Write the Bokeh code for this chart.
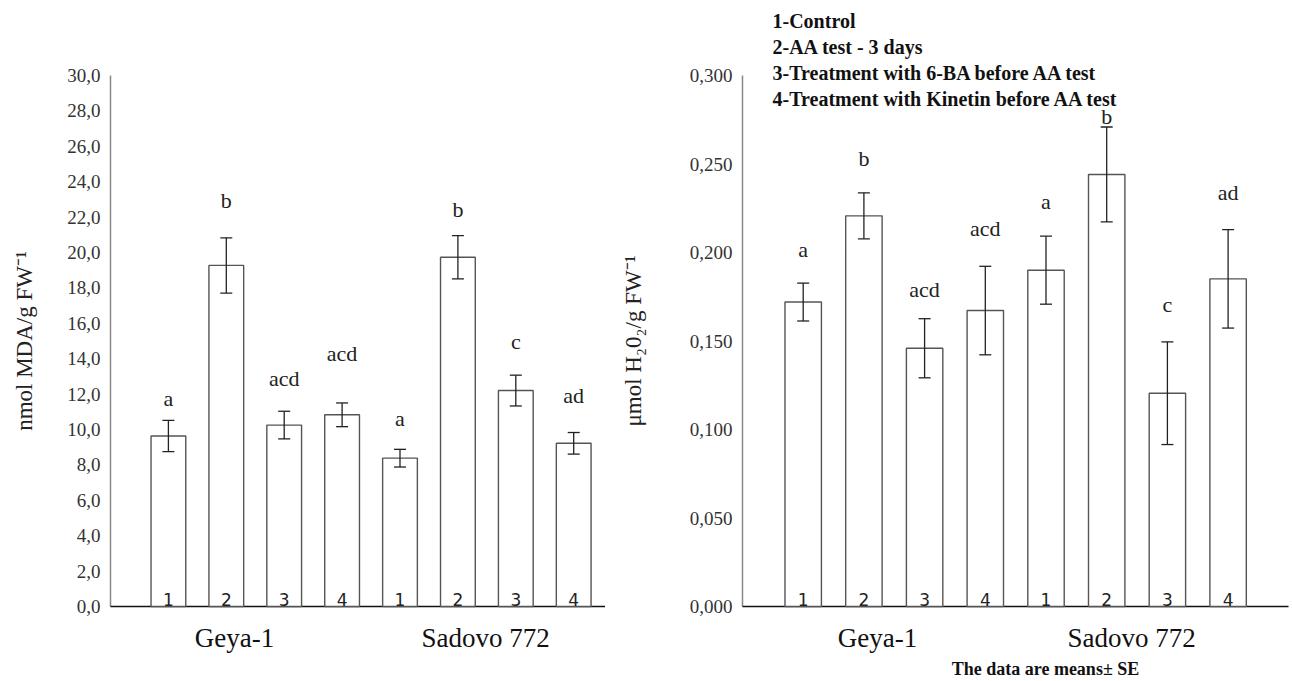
from bokeh.plotting import figure
from bokeh.layouts import row
from bokeh.models import (ColumnDataSource, FixedTicker, CustomJSTickFormatter,
                          Whisker, TeeHead, Label, Range1d)
from bokeh.core.properties import value
from bokeh.embed import file_html
from bokeh.resources import INLINE

# ---------------- data ----------------
groups = ["Geya-1", "Sadovo 772"]
treatment_no = ["1", "2", "3", "4", "1", "2", "3", "4"]
mda_mean = [9.63, 19.27, 10.25, 10.83, 8.38, 19.73, 12.2, 9.22]
mda_se = [0.88, 1.56, 0.78, 0.67, 0.50, 1.22, 0.87, 0.61]
mda_letters = ["a", "b", "acd", "acd", "a", "b", "c", "ad"]
mda_ticks = [0, 2, 4, 6, 8, 10, 12, 14, 16, 18, 20, 22, 24, 26, 28, 30]
h2o2_mean = [0.172, 0.2207, 0.1459, 0.1672, 0.190, 0.2441, 0.1205, 0.1851]
h2o2_se = [0.0107, 0.0130, 0.0167, 0.0250, 0.0192, 0.0268, 0.0290, 0.0278]
h2o2_letters = ["a", "b", "acd", "acd", "a", "b", "c", "ad"]
h2o2_ticks = [0.0, 0.05, 0.10, 0.15, 0.20, 0.25, 0.30]
legend_lines = ["1-Control", "2-AA test - 3 days",
                "3-Treatment with 6-BA before AA test",
                "4-Treatment with Kinetin before AA test"]
footnote = "The data are means\u00b1 SE"

# ---------------- styles / layout ----------------
SERIF = "Liberation Serif"
SANS = "DejaVu Sans"
mda_letter_gap = [22, 37, 33, 49, 31, 26, 34, 37]
h2o2_letter_gap = [34, 34, 29, 38, 35, 11, 37, 37]
pos = list(range(1, len(treatment_no) + 1))

PAGE_H = 681
ZERO_PY = 606        # page y of the value 0 (x-axis line)
TOP_PY = 75          # page y of the highest tick


class Chart:
    def __init__(self, fig_left, fig_width, frame_left, axis_px, axis_end_px, ppu_x,
                 y_top_val, means, ses, letters, gaps, ylabel, tick_code, ticks,
                 label_standoff):
        self.axis_px = axis_px
        self.ppu_x = ppu_x
        self.ppu_y = (ZERO_PY - TOP_PY) / y_top_val
        x_start = -(axis_px - frame_left) / ppu_x
        x_end = (fig_left + fig_width - axis_px) / ppu_x
        y_start = -(PAGE_H - ZERO_PY) / self.ppu_y
        y_end = ZERO_PY / self.ppu_y
        src = ColumnDataSource(dict(
            x=pos, top=means,
            upper=[m + s for m, s in zip(means, ses)],
            lower=[m - s for m, s in zip(means, ses)],
            num=treatment_no, let=letters, gap=[-g for g in gaps],
        ))
        p = figure(width=fig_width, height=PAGE_H, output_backend="svg",
                   toolbar_location=None,
                   x_range=Range1d(x_start, x_end), y_range=Range1d(y_start, y_end),
                   min_border_left=frame_left - fig_left, min_border_right=0,
                   min_border_top=0, min_border_bottom=0)
        p.outline_line_color = None
        p.grid.visible = False
        p.background_fill_color = "white"
        p.xaxis.visible = False

        # axis lines
        p.segment(x0=[0], y0=[ticks[0]], x1=[0], y1=[ticks[-1]],
                  line_color="#888888", line_width=1.5)
        p.segment(x0=[0], y0=[0], x1=[self.dx(axis_end_px)], y1=[0],
                  line_color="#111111", line_width=1.5)

        p.vbar(x="x", top="top", width=0.6, bottom=0, source=src,
               fill_color="white", line_color="#555555", line_width=1.4)
        w = Whisker(base="x", upper="upper", lower="lower", source=src,
                    line_color="#222222", line_width=1.3, level="overlay",
                    upper_head=TeeHead(size=12, line_color="#222222", line_width=1.3),
                    lower_head=TeeHead(size=12, line_color="#222222", line_width=1.3))
        p.add_layout(w)
        p.text(x="x", y="upper", text="let", source=src, y_offset="gap",
               text_align="center", text_baseline="middle",
               text_font=value(SERIF), text_font_size="22px", text_color="#222222")
        p.text(x="x", y=0, text="num", source=src, y_offset=-7,
               text_align="center", text_baseline="alphabetic",
               text_font=value(SANS), text_font_size="17px", text_color="#222222")

        ya = p.yaxis[0]
        ya.ticker = FixedTicker(ticks=ticks)
        ya.formatter = CustomJSTickFormatter(code=tick_code)
        ya.major_tick_line_color = None
        ya.minor_tick_line_color = None
        ya.axis_line_color = None
        ya.major_label_text_font = SERIF
        ya.major_label_text_font_size = "19px"
        ya.major_label_text_color = "#333333"
        ya.major_label_standoff = 1
        ya.axis_label = ylabel
        ya.axis_label_text_font = SERIF
        ya.axis_label_text_font_style = "normal"
        ya.axis_label_text_font_size = "23px"
        ya.axis_label_text_color = "#222222"
        ya.axis_label_standoff = label_standoff
        self.p = p

    def dx(self, px):
        return (px - self.axis_px) / self.ppu_x

    def dy(self, py):
        return (ZERO_PY - py) / self.ppu_y

    def label(self, px, py, text, size, bold=False, align="center"):
        self.p.add_layout(Label(x=self.dx(px), y=self.dy(py), text=text,
                                text_font=SERIF,
                                text_font_style="bold" if bold else "normal",
                                text_font_size=size, text_color="#111111",
                                text_align=align, text_baseline="middle"))


left = Chart(0, 605, 107, 110, 630, 57.9, mda_ticks[-1],
             mda_mean, mda_se, mda_letters, mda_letter_gap,
             "nmol MDA/g FW\u207b\u00b9",
             "return tick.toFixed(1).replace('.', ',');", mda_ticks, 27)
right = Chart(605, 687, 739, 742, 1288, 60.7, h2o2_ticks[-1],
              h2o2_mean, h2o2_se, h2o2_letters, h2o2_letter_gap,
              "\u03bcmol H\u20820\u2082/g FW\u207b\u00b9",
              "return tick.toFixed(3).replace('.', ',');", h2o2_ticks, 41)

# group names under the x-axes
left.label(234, 637, groups[0], "27px")
left.label(485, 637, groups[1], "27px")
right.label(877, 637, groups[0], "27px")
right.label(1131, 637, groups[1], "27px")

# legend and footnote
for i, line in enumerate(legend_lines):
    right.label(772, 20 + 26 * i, line, "20px", bold=True, align="left")
right.label(1045, 668, footnote, "18px", bold=True)

layout = row(left.p, right.p)
open("out.html", "w").write(file_html(layout, INLINE))
